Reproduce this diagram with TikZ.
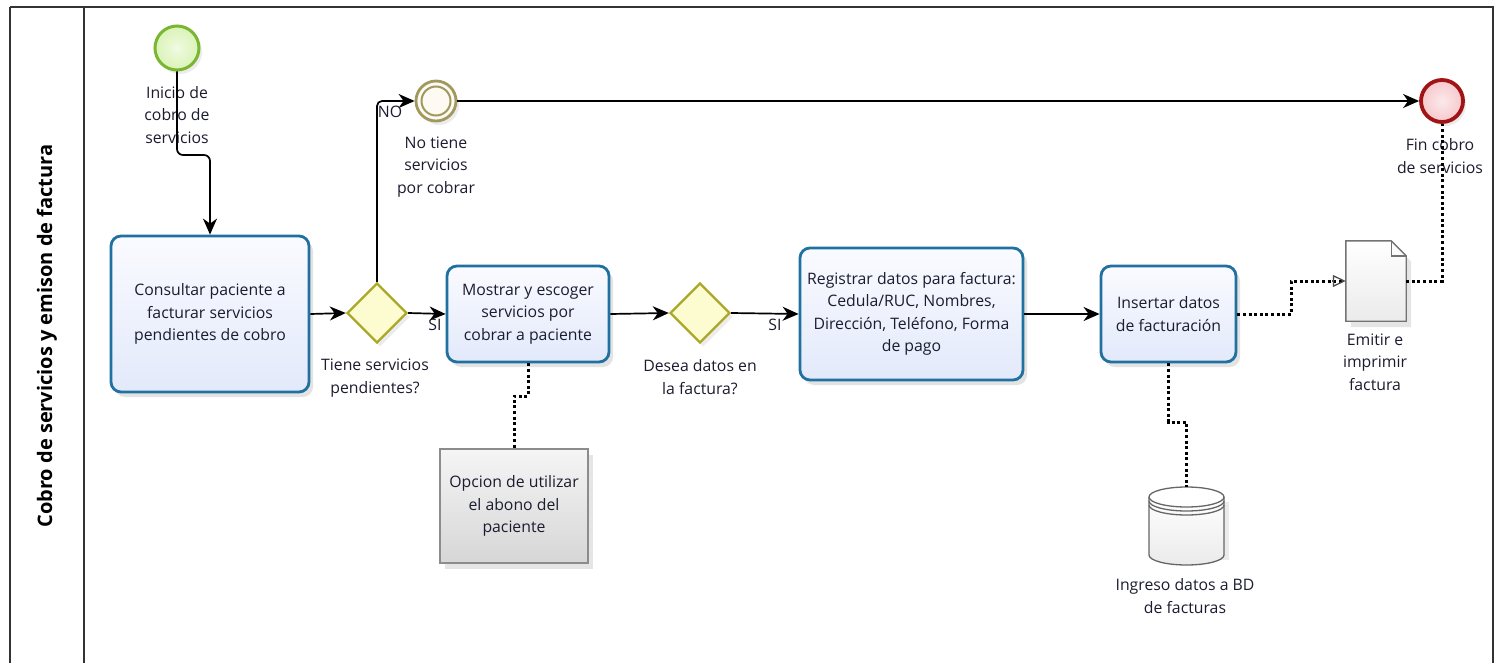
\documentclass[tikz,border=0pt]{standalone}
\usepackage{fontspec}
\setmainfont{Open Sans}
\usetikzlibrary{shapes.geometric,arrows.meta,shadows,calc}
\definecolor{taskborder}{RGB}{32,112,160}
\definecolor{tasktop}{RGB}{250,251,255}
\definecolor{taskbot}{RGB}{226,233,250}
\definecolor{gwborder}{RGB}{170,168,40}
\definecolor{gwfill}{RGB}{253,251,208}
\definecolor{startborder}{RGB}{122,182,52}
\definecolor{startfill}{RGB}{218,243,182}
\definecolor{midborder}{RGB}{160,152,92}
\definecolor{midfill}{RGB}{253,250,244}
\definecolor{endborder}{RGB}{160,20,22}
\definecolor{endfill}{RGB}{246,200,204}
\definecolor{txt}{RGB}{28,28,48}
\begin{document}
\begin{tikzpicture}[x=1pt,y=-1pt,
  every node/.style={font=\fontsize{15.8}{22.5}\selectfont, text=txt},
  task/.style={draw=taskborder, line width=2.8pt, rounded corners=10pt, top color=tasktop, bottom color=taskbot, align=center, inner sep=2pt, drop shadow={opacity=0.22, shadow xshift=4pt, shadow yshift=-5pt}},
  gw/.style={diamond, aspect=1, draw=gwborder, line width=2.4pt, fill=gwfill, minimum width=60pt, minimum height=60pt, inner sep=0pt, drop shadow={opacity=0.15, shadow xshift=3pt, shadow yshift=-4pt}},
  lbl/.style={align=center, inner sep=0pt},
  flow/.style={draw=black, line width=1.7pt, -{Stealth[length=16pt,width=14pt,inset=5pt]}},
  assoc/.style={draw=black, line width=3pt, dash pattern=on 3pt off 2.6pt},
  ghost/.style={draw=none, minimum width=0pt, inner sep=0pt}
]
\useasboundingbox (0,0) rectangle (1495,663);
\fill[white] (0,0) rectangle (1495,663);
% pool
\draw[line width=1.3pt, draw=black!80] (10,7) -- (1493,7) -- (1493,670);
\draw[line width=1.3pt, draw=black!80] (10,670) -- (10,7);
\draw[line width=1.3pt, draw=black!80] (84,7) -- (84,670);
\node[rotate=90, font=\fontsize{20}{22}\selectfont\bfseries, text=black] (pooltitle) at (47,336) {Cobro de servicios y emison de factura};

% events
\node[circle, draw=startborder, line width=3pt, inner color=startfill!40, outer color=startfill, minimum size=44pt, inner sep=0pt, drop shadow={opacity=0.15, shadow xshift=3pt, shadow yshift=-4pt}] (start) at (177,48) {};
\node[lbl] (startl) at (177,115) {Inicio de\\cobro de\\servicios};

\node[circle, draw=midborder, line width=2.8pt, fill=midfill, minimum size=40pt, inner sep=0pt, drop shadow={opacity=0.15, shadow xshift=3pt, shadow yshift=-4pt}] (noserv) at (436,101) {};
\node[circle, draw=midborder, line width=2pt, minimum size=29pt, inner sep=0pt] (noservin) at (436,101) {};
\node[lbl] (noservl) at (436,167) {No tiene\\servicios\\por cobrar};

\node[circle, draw=endborder, line width=3.8pt, inner color=endfill!40, outer color=endfill, minimum size=42pt, inner sep=0pt, drop shadow={opacity=0.15, shadow xshift=3pt, shadow yshift=-4pt}] (endev) at (1442,101) {};
\node[lbl] (endl) at (1440,156) {Fin cobro\\de servicios};

% tasks
\node[task, minimum width=198pt, minimum height=156pt] (t1) at (210,314) {Consultar paciente a\\facturar servicios\\pendientes de cobro};
\node[task, minimum width=162pt, minimum height=96pt] (t2) at (528,314) {Mostrar y escoger\\servicios por\\cobrar a paciente};
\node[task, minimum width=223pt, minimum height=132pt] (t3) at (911.5,314) {Registrar datos para factura:\\Cedula/RUC, Nombres,\\Dirección, Teléfono, Forma\\de pago};
\node[task, minimum width=135pt, minimum height=96pt] (t4) at (1168.5,314) {Insertar datos\\de facturación};

% gateways
\node[gw] (g1) at (377,313) {};
\node[lbl] (g1l) at (375,378) {Tiene servicios\\pendientes?};
\node[gw] (g2) at (700,313) {};
\node[lbl] (g2l) at (700,377) {Desea datos en\\la factura?};

% annotation
\node[draw=black!45, line width=1.2pt, top color=black!4, bottom color=black!16, minimum width=148pt, minimum height=114pt, align=center, inner sep=2pt, drop shadow={opacity=0.2, shadow xshift=5pt, shadow yshift=-6pt}] (ann) at (514,506) {Opcion de utilizar\\el abono del\\paciente};

% document
\node[ghost, minimum width=60pt, minimum height=80pt] (doc) at (1376,281) {};
\fill[black!20, opacity=0.5] ($(doc.north west)+(5,6)$) -- ($(doc.north east)+(-10,6)$) -- ($(doc.north east)+(5,21)$) -- ($(doc.south east)+(5,6)$) -- ($(doc.south west)+(5,6)$) -- cycle;
\draw[draw=black!55, line width=1.4pt, top color=white, bottom color=black!8] (doc.north west) -- ($(doc.north east)+(-15,0)$) -- ($(doc.north east)+(0,15)$) -- (doc.south east) -- (doc.south west) -- cycle;
\draw[draw=black!55, line width=1.4pt] ($(doc.north east)+(-15,0)$) -- ($(doc.north east)+(-15,15)$) -- ($(doc.north east)+(0,15)$);
\node[lbl] (docl) at (1375,362) {Emitir e\\imprimir\\factura};

% data store
\node[ghost, minimum width=75pt, minimum height=78pt] (db) at (1186.5,526) {};
\fill[black!15, opacity=0.5] (1154,502) rectangle (1229,560);
\path[top color=white, bottom color=black!8] (1149,497) -- (1149,555) .. controls (1149,560.52) and (1165.8,565) .. (1186.5,565) .. controls (1207.2,565) and (1224,560.52) .. (1224,555) -- (1224,497) -- cycle;
\draw[draw=black!60, line width=1.3pt] (1149,497) -- (1149,555) .. controls (1149,560.52) and (1165.8,565) .. (1186.5,565) .. controls (1207.2,565) and (1224,560.52) .. (1224,555) -- (1224,497);
\draw[draw=black!60, line width=1.3pt, fill=white] (1186.5,497) ellipse [x radius=37.5, y radius=10];
\foreach \yc in {501,505} {
  \draw[draw=black!60, line width=1.3pt] (1149,\yc) .. controls (1149,\yc+5.52) and (1165.8,\yc+10) .. (1186.5,\yc+10) .. controls (1207.2,\yc+10) and (1224,\yc+5.52) .. (1224,\yc);
}
\node[lbl] (dbl) at (1185,596) {Ingreso datos a BD\\de facturas};

% sequence flows
\draw[flow, rounded corners=6pt] (start.south) -- (start.south |- 0,155) -- (t1.north |- 0,155) -- (t1.north);
\draw[flow] (t1.east) -- (g1.west);
\draw[flow] (g1.east) -- (t2.west);
\node[lbl] (si1) at (435,325) {SI};
\draw[flow, rounded corners=5pt] (g1.north) -- (g1.north |- noserv.west) -- (noserv.west);
\node[lbl] (no1) at (390,112) {NO};
\draw[flow] (noserv.east) -- (endev.west);
\draw[flow] (t2.east) -- (g2.west);
\draw[flow] (g2.east) -- (t3.west);
\node[lbl] (si2) at (775,325) {SI};
\draw[flow] (t3.east) -- (t4.west);

% associations
\draw[assoc] (t2.south) -- ($(t2.south)+(0,33)$) -| (ann.north);
\draw[assoc] (t4.south) -- (t4.south |- 0,422) -| (db.north);
\draw[assoc] (t4.east) -- ++(54,0) |- ($(doc.west)+(-2,0)$);
\draw[line width=1.3pt, draw=black!70, -{Triangle[open,length=13pt,width=12pt]}] ($(doc.west)+(-14,0)$) -- (doc.west);
\draw[assoc] (doc.east) -| (endev.south);
\end{tikzpicture}
\end{document}
